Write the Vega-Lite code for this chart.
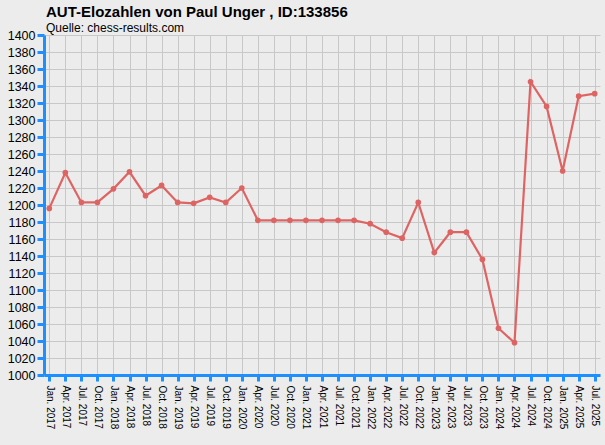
{
  "$schema": "https://vega.github.io/schema/vega-lite/v6.json",
  "autosize": {"type": "none"},
  "padding": {"left": 44, "top": 35, "right": 5, "bottom": 70},
  "width": 556,
  "height": 340,
  "background": "#ECECEC",
  "title": {
    "text": "AUT-Elozahlen von Paul Unger , ID:133856",
    "subtitle": "Quelle: chess-results.com",
    "anchor": "start",
    "frame": "group",
    "font": "Liberation Sans",
    "fontSize": 15,
    "fontWeight": "bold",
    "color": "#000000",
    "subtitleFont": "Liberation Sans",
    "subtitleFontSize": 12,
    "subtitleColor": "#000000",
    "subtitlePadding": 3,
    "offset": -5,
    "dx": 2
  },
  "data": {
    "values": [
      {"q": "Jan. 2017", "elo": 1196},
      {"q": "Apr. 2017", "elo": 1238},
      {"q": "Jul. 2017", "elo": 1203},
      {"q": "Oct. 2017", "elo": 1203},
      {"q": "Jan. 2018", "elo": 1219},
      {"q": "Apr. 2018", "elo": 1239},
      {"q": "Jul. 2018", "elo": 1211},
      {"q": "Oct. 2018", "elo": 1223},
      {"q": "Jan. 2019", "elo": 1203},
      {"q": "Apr. 2019", "elo": 1202},
      {"q": "Jul. 2019", "elo": 1209},
      {"q": "Oct. 2019", "elo": 1203},
      {"q": "Jan. 2020", "elo": 1220},
      {"q": "Apr. 2020", "elo": 1182},
      {"q": "Jul. 2020", "elo": 1182},
      {"q": "Oct. 2020", "elo": 1182},
      {"q": "Jan. 2021", "elo": 1182},
      {"q": "Apr. 2021", "elo": 1182},
      {"q": "Jul. 2021", "elo": 1182},
      {"q": "Oct. 2021", "elo": 1182},
      {"q": "Jan. 2022", "elo": 1178},
      {"q": "Apr. 2022", "elo": 1168},
      {"q": "Jul. 2022", "elo": 1161},
      {"q": "Oct. 2022", "elo": 1203},
      {"q": "Jan. 2023", "elo": 1144},
      {"q": "Apr. 2023", "elo": 1168},
      {"q": "Jul. 2023", "elo": 1168},
      {"q": "Oct. 2023", "elo": 1136},
      {"q": "Jan. 2024", "elo": 1055},
      {"q": "Apr. 2024", "elo": 1038},
      {"q": "Jul. 2024", "elo": 1345},
      {"q": "Oct. 2024", "elo": 1316},
      {"q": "Jan. 2025", "elo": 1240},
      {"q": "Apr. 2025", "elo": 1328},
      {"q": "Jul. 2025", "elo": 1331}
    ]
  },
  "encoding": {
    "x": {
      "field": "q",
      "type": "ordinal",
      "sort": null,
      "scale": {"type": "point", "padding": 0.33},
      "axis": {
        "title": null,
        "labelAngle": 90,
        "labelAlign": "left",
        "labelBaseline": "middle",
        "labelPadding": 4,
        "labelFont": "Liberation Sans",
        "labelFontSize": 10,
        "labelColor": "#000000",
        "tickSize": 6,
        "tickWidth": 3,
        "tickColor": "#1E8FFF",
        "domainColor": "#1E8FFF",
        "domainWidth": 3,
        "grid": true,
        "gridColor": "#C8C8C8",
        "gridWidth": 1,
        "labelOverlap": false
      }
    },
    "y": {
      "field": "elo",
      "type": "quantitative",
      "scale": {"domain": [1000, 1400], "nice": false, "zero": false},
      "axis": {
        "title": null,
        "values": [1000, 1020, 1040, 1060, 1080, 1100, 1120, 1140, 1160, 1180, 1200, 1220, 1240, 1260, 1280, 1300, 1320, 1340, 1360, 1380, 1400],
        "format": "d",
        "labelFont": "Liberation Sans",
        "labelFontSize": 12.5,
        "labelColor": "#000000",
        "labelPadding": 2,
        "tickSize": 7,
        "tickWidth": 3,
        "tickColor": "#1E8FFF",
        "domainColor": "#1E8FFF",
        "domainWidth": 3,
        "grid": true,
        "gridColor": "#C8C8C8",
        "gridWidth": 1,
        "labelOverlap": false
      }
    }
  },
  "layer": [
    {"mark": {"type": "line", "color": "#DE6464", "strokeWidth": 2.2}},
    {"mark": {"type": "point", "filled": true, "color": "#DE6464", "size": 32, "opacity": 1}}
  ],
  "config": {
    "view": {"stroke": null, "fill": "#ECECEC"}
  }
}
